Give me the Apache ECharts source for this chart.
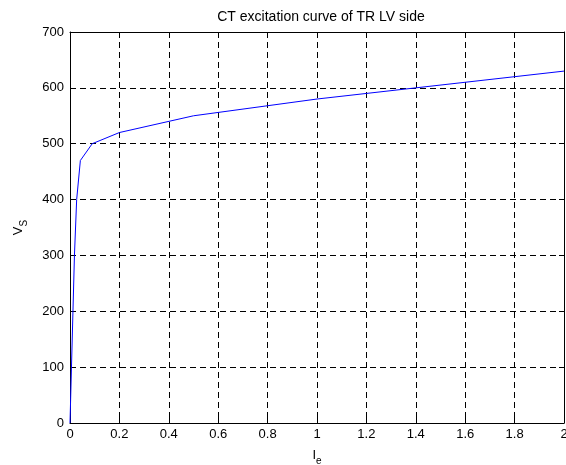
<!DOCTYPE html>
<html><head><meta charset="utf-8">
<script src="https://cdn.jsdelivr.net/npm/echarts@6/dist/echarts.min.js"></script>
<style>html,body{margin:0;padding:0;background:#fff}#c{width:566px;height:465px}</style>
</head><body><div id="c"></div>
<script>
const titleText = 'CT excitation curve of TR LV side';
const ie = [0, 0.006, 0.012, 0.018, 0.027, 0.042, 0.09, 0.2, 0.5, 1, 2];
const vs = [0, 100, 200, 300, 400, 470, 500, 520, 550, 580, 630];
const xTicks = [0, 0.2, 0.4, 0.6, 0.8, 1, 1.2, 1.4, 1.6, 1.8, 2];
const yTicks = [0, 100, 200, 300, 400, 500, 600, 700];

const font = 'Liberation Sans, Arial, sans-serif';
const chart = echarts.init(document.getElementById('c'), null, {renderer: 'canvas'});
const gridLine = {show: true, lineStyle: {color: '#000', type: [6, 4], width: 1}};
const tick = {show: true, inside: true, length: 5, lineStyle: {color: '#000'}};
const axLine = {show: true, onZero: false, lineStyle: {color: '#000', width: 1}};
chart.setOption({
  animation: false,
  backgroundColor: '#fff',
  title: {text: titleText, left: 316, top: 5, textAlign: 'center',
    textStyle: {fontFamily: font, fontSize: 14, fontWeight: 'normal', color: '#000'}},
  grid: {left: 70, right: 2, top: 32, bottom: 42, containLabel: false, outerBoundsMode: 'none'},
  xAxis: [{
    type: 'value', min: xTicks[0], max: xTicks[xTicks.length - 1], interval: 0.2,
    axisLine: axLine, axisTick: tick, splitLine: gridLine,
    axisLabel: {fontFamily: font, fontSize: 13, color: '#000', margin: 5, hideOverlap: false},
    name: '{a|I}{b|e}', nameLocation: 'middle', nameGap: 21,
    nameTextStyle: {rich: {a: {fontFamily: font, fontSize: 13, color: '#000'},
      b: {fontFamily: font, fontSize: 10, color: '#000', padding: [12, 0, 0, 0]}}}
  }, {
    type: 'value', position: 'top', min: 0, max: 2, interval: 0.2,
    axisLine: axLine, axisTick: tick, splitLine: {show: false}, axisLabel: {show: false}
  }],
  yAxis: [{
    type: 'value', min: yTicks[0], max: yTicks[yTicks.length - 1], interval: 100,
    axisLine: axLine, axisTick: tick, splitLine: gridLine,
    axisLabel: {fontFamily: font, fontSize: 13, color: '#000', margin: 6},
    name: '{a|V}{b|S}', nameLocation: 'middle', nameGap: 41, nameRotate: 90,
    nameTextStyle: {rich: {a: {fontFamily: font, fontSize: 13, color: '#000'},
      b: {fontFamily: font, fontSize: 10, color: '#000', padding: [12, 0, 0, 0]}}}
  }, {
    type: 'value', position: 'right', min: 0, max: 700, interval: 100,
    axisLine: axLine, axisTick: tick, splitLine: {show: false}, axisLabel: {show: false}
  }],
  series: [{
    type: 'line', xAxisIndex: 0, yAxisIndex: 0,
    data: ie.map((x, i) => [x, vs[i]]),
    showSymbol: false, lineStyle: {color: '#0000ff', width: 1}, itemStyle: {color: '#0000ff'}
  }]
});
</script></body></html>
